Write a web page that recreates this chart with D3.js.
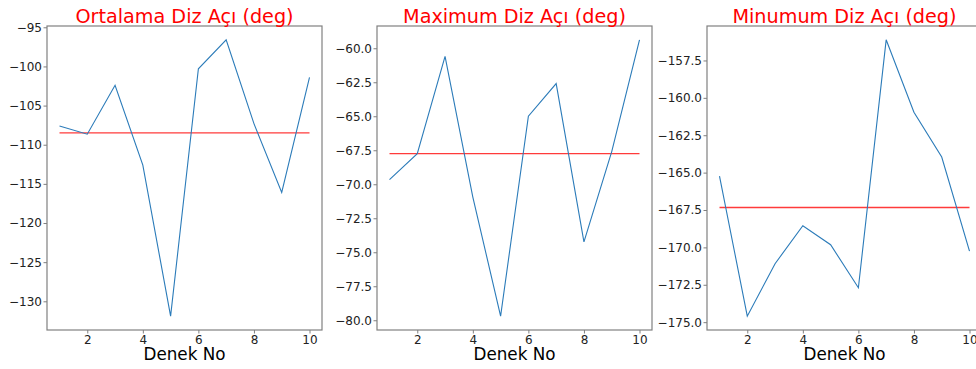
<!DOCTYPE html>
<html>
<head>
<meta charset="utf-8">
<script src="https://cdn.jsdelivr.net/npm/d3@7"></script>
<style>
  body { margin: 0; background: #fff; }
  svg { display: block; font-family: "DejaVu Sans", sans-serif; }
</style>
</head>
<body>
<div id="chart"></div>
<script>
// trial numbers (x axis)
const denekNo = [1, 2, 3, 4, 5, 6, 7, 8, 9, 10];

// series
const ortalama = [-107.6, -108.65, -102.4, -112.6, -131.9, -100.3, -96.6, -107.3, -116.1, -101.4];
const maximum = [-69.66, -67.75, -60.6, -70.94, -79.7, -64.99, -62.6, -74.24, -67.6, -59.38];
const minumum = [-165.23, -174.6, -171.09, -168.55, -169.82, -172.7, -156.12, -160.96, -163.96, -170.25];

const titles = ["Ortalama Diz Açı (deg)", "Maximum Diz Açı (deg)", "Minumum Diz Açı (deg)"];
const xTicks = [2, 4, 6, 8, 10];
const yTicks1 = [-130, -125, -120, -115, -110, -105, -100, -95];
const yTicks2 = [-80, -77.5, -75, -72.5, -70, -67.5, -65, -62.5, -60];
const yTicks3 = [-175, -172.5, -170, -167.5, -165, -162.5, -160, -157.5];

const W = 976, H = 369;
const svg = d3.select("#chart").append("svg")
  .attr("width", W).attr("height", H)
  .style("overflow", "hidden");

const panels = [
  {title: titles[0], values: ortalama, ticks: yTicks1, fmt: d3.format(".0f"), left: 47},
  {title: titles[1], values: maximum, ticks: yTicks2, fmt: d3.format(".1f"), left: 377},
  {title: titles[2], values: minumum, ticks: yTicks3, fmt: d3.format(".1f"), left: 707}
];

const pw = 275, plotTop = 26, plotBottom = 330;
const axisColor = "#808080";

panels.forEach(function(p) {
  const g = svg.append("g").attr("transform", "translate(" + p.left + ",0)");

  // matplotlib style 5% margins
  const xr = d3.extent(denekNo), xm = (xr[1] - xr[0]) * 0.05;
  const x = d3.scaleLinear().domain([xr[0] - xm, xr[1] + xm]).range([0, pw]);
  const yr = d3.extent(p.values), ym = (yr[1] - yr[0]) * 0.05;
  const y = d3.scaleLinear().domain([yr[0] - ym, yr[1] + ym]).range([plotBottom, plotTop]);

  const mean = d3.mean(p.values);

  // mean line
  g.append("path")
    .datum(denekNo)
    .attr("fill", "none")
    .attr("stroke", "#ff3b3b")
    .attr("stroke-width", 1.4)
    .attr("d", d3.line().x(function(d) { return x(d); }).y(function() { return y(mean); }));

  // data line
  g.append("path")
    .datum(p.values)
    .attr("fill", "none")
    .attr("stroke", "#2b7bb9")
    .attr("stroke-width", 1.1)
    .attr("d", d3.line().x(function(d, i) { return x(denekNo[i]); }).y(function(d) { return y(d); }));

  // frame
  g.append("rect")
    .attr("x", 0).attr("y", plotTop)
    .attr("width", pw).attr("height", plotBottom - plotTop)
    .attr("fill", "none").attr("stroke", axisColor).attr("stroke-width", 1.2);

  // axes
  const xa = g.append("g").attr("transform", "translate(0," + plotBottom + ")")
    .call(d3.axisBottom(x).tickValues(xTicks).tickSize(3.5).tickPadding(1.5).tickFormat(d3.format("d")));
  const ya = g.append("g")
    .call(d3.axisLeft(y).tickValues(p.ticks).tickSize(3.5).tickPadding(1.5).tickFormat(p.fmt));
  [xa, ya].forEach(function(a) {
    a.select(".domain").remove();
    a.selectAll("line").attr("stroke", axisColor);
    a.selectAll("text").attr("fill", "#222").style("font-size", "12px").style("font-family", "DejaVu Sans");
  });

  // title
  g.append("text")
    .attr("x", pw / 2).attr("y", 22.5)
    .attr("text-anchor", "middle")
    .attr("fill", "#ff0000")
    .style("font-size", "19.2px")
    .text(p.title);

  // x label
  g.append("text")
    .attr("x", pw / 2).attr("y", 360)
    .attr("text-anchor", "middle")
    .attr("fill", "#000")
    .style("font-size", "16.8px")
    .text("Denek No");
});
</script>
</body>
</html>
